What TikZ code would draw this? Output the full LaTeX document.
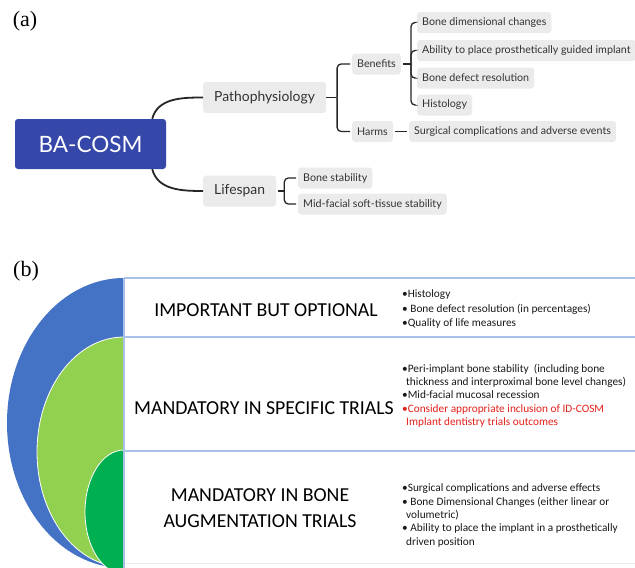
\documentclass[tikz,border=0pt]{standalone}
\usepackage{fontspec}
\setmainfont{Carlito}
\newfontfamily\mapfont{Lato}
\newfontfamily\labfont{Liberation Serif}
\usetikzlibrary{calc}
\definecolor{bablue}{HTML}{3547A8}
\definecolor{boxgray}{HTML}{EBEBEB}
\definecolor{txtgray}{HTML}{333333}
\definecolor{cblue}{HTML}{4472C4}
\definecolor{clgreen}{HTML}{92D050}
\definecolor{cdgreen}{HTML}{00B050}
\definecolor{sepline}{HTML}{A9C0E8}
\definecolor{redtxt}{HTML}{E3201B}
\tikzset{
  panlab/.style={font=\labfont\fontsize{22}{24}\selectfont, text=black, inner sep=0},
  rootbox/.style={fill=bablue, rounded corners=3, minimum width=151, minimum height=50, text=white, inner sep=0, font=\mapfont\fontsize{22.5}{24}\selectfont},
  midbox/.style={fill=boxgray, rounded corners=3, minimum height=31, inner xsep=11, inner ysep=0, anchor=west, text=txtgray, font=\mapfont\fontsize{13.9}{16}\selectfont},
  leafbox/.style={fill=boxgray, rounded corners=3, minimum height=21, inner xsep=5, inner ysep=0, anchor=west, text=txtgray, font=\mapfont\fontsize{10.7}{12}\selectfont},
  conn/.style={draw=black!85, line width=1.3},
  mainconn/.style={draw=black!85, line width=1.8},
  sep/.style={draw=sepline, line width=1.1},
  cat/.style={font=\fontsize{19.8}{26}\selectfont, align=center, text=black, inner sep=0},
  blist/.style={font=\fontsize{11.3}{13.3}\selectfont, align=left, anchor=west, text=black!90, inner sep=0},
}
\begin{document}
\begin{tikzpicture}[x=1pt,y=-1pt]
\useasboundingbox (0,0) rectangle (635,568);
\fill[white] (0,0) rectangle (635,568);
% ---------- (a) ----------
\node[panlab] (la) at (25,21) {(a)};
\node[rootbox] (root) at (90.5,144) {BA-COSM};
\node[midbox] (patho) at (203,97.5) {Pathophysiology};
\node[midbox] (life) at (203,191) {Lifespan};
\node[leafbox] (ben) at (352,64) {Benefits};
\node[leafbox] (harm) at (352,131.5) {Harms};
\node[leafbox] (b1) at (417,22.5) {Bone dimensional changes};
\node[leafbox] (b2) at (417,50.5) {Ability to place prosthetically guided implant};
\node[leafbox] (b3) at (417,78) {Bone defect resolution};
\node[leafbox] (b4) at (417,105) {Histology};
\node[leafbox] (h1) at (409,131.5) {Surgical complications and adverse events};
\node[leafbox] (s1) at (298,178) {Bone stability};
\node[leafbox] (s2) at (298,204) {Mid-facial soft-tissue stability};
\draw[mainconn] ([xshift=-14pt]root.north east) to[out=75,in=180] (patho.west);
\draw[mainconn] ([xshift=-14pt]root.south east) to[out=-75,in=180] (life.west);
\coordinate (jp) at ([xshift=11pt]patho.east);
\draw[conn] (patho.east) -- (jp);
\draw[conn, rounded corners=4, shorten >=2pt] (jp) |- (ben.west);
\draw[conn, rounded corners=4, shorten >=2pt] (jp) |- (harm.west);
\coordinate (jb) at ([xshift=10pt]ben.east);
\draw[conn, shorten <=2pt] (ben.east) -- (jb);
\foreach \n in {b1,b2,b3,b4}{\draw[conn, rounded corners=4, shorten >=3pt] (jb) |- (\n.west);}
\draw[conn, shorten <=2pt, shorten >=2pt] (harm.east) -- (h1.west);
\coordinate (jl) at ([xshift=8pt]life.east);
\draw[conn, shorten <=2pt] (life.east) -- (jl);
\draw[conn, rounded corners=4, shorten >=2pt] (jl) |- (s1.west);
\draw[conn, rounded corners=4, shorten >=2pt] (jl) |- (s2.west);
% ---------- (b) ----------
\node[panlab] (lb) at (26,271) {(b)};
\begin{scope}
\clip (0,278) rectangle (124,568);
\fill[cblue] (124,423) ellipse[x radius=117, y radius=145];
\filldraw[fill=clgreen, draw=white, line width=0.8] (124,452) ellipse[x radius=87, y radius=115];
\filldraw[fill=cdgreen, draw=white, line width=0.8] (124,512) ellipse[x radius=39, y radius=62];
\end{scope}
\draw[sep] (124,278) -- (635,278);
\draw[sep] (124,337) -- (635,337);
\draw[sep] (124,451) -- (635,451);
\draw[sep] (124,278) -- (124,568);
\draw[draw=black!8, line width=1] (125,563) -- (635,563);
\node[cat] (c1) at (266,310) {IMPORTANT BUT OPTIONAL};
\node[cat] (c2) at (264,408) {MANDATORY IN SPECIFIC TRIALS};
\node[cat] (c3) at (260,508) {MANDATORY IN BONE\\AUGMENTATION TRIALS};
\node[blist, font=\fontsize{11.3}{14.5}\selectfont] (l1) at (402,309) {•Histology\\ • Bone defect resolution (in percentages)\\•Quality of life measures};
\node[blist] (l2) at (402,395.5) {•Peri-implant bone stability\ \ (including bone\\\hspace{4pt}thickness and interproximal bone level changes)\\•Mid-facial mucosal recession\\\textcolor{redtxt}{•Consider appropriate inclusion of ID-COSM}\\\hspace{4pt}\textcolor{redtxt}{Implant dentistry trials outcomes}};
\node[blist] (l3) at (402,515.5) {•Surgical complications and adverse effects\\ • Bone Dimensional Changes (either linear or\\\hspace{4pt}volumetric)\\ • Ability to place the implant in a prosthetically\\\hspace{4pt}driven position};
\end{tikzpicture}
\end{document}
